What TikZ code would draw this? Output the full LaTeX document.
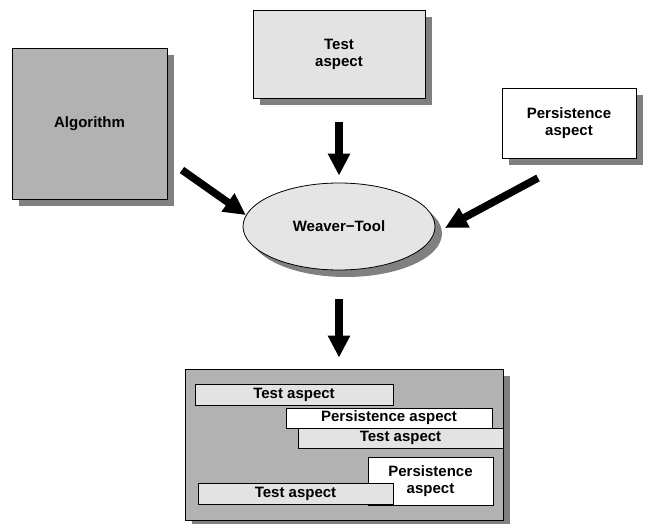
\documentclass[tikz,border=0pt]{standalone}
\usepackage{fontspec}
\setmainfont{Liberation Sans}
\usetikzlibrary{shapes.geometric,shadows,arrows.meta}

\begin{document}
\begin{tikzpicture}[x=1pt,y=-1pt,
  every node/.style={font=\bfseries\fontsize{15}{17}\selectfont,align=center,inner sep=0pt},
  box/.style={draw,line width=0.8pt,
    drop shadow={shadow xshift=7pt,shadow yshift=-7pt,fill=black!50,opacity=1}},
  bar/.style={draw,line width=0.8pt,fill=black!11},
  bigarrow/.style={line width=7.5pt,-{Triangle[width=21pt,length=22pt]}}]
  \useasboundingbox (0,0) rectangle (653,524);

  % the three inputs and the weaver
  \node[box,fill=black!30,minimum width=155pt,minimum height=151pt] (alg) at (89.5,123.5) {Algorithm};
  \node[box,fill=black!11,minimum width=172pt,minimum height=88pt] (test) at (339,54) {Test\\aspect};
  \node[box,fill=white,minimum width=134pt,minimum height=70pt] (pers) at (569,123) {Persistence\\aspect};
  \node[box,ellipse,fill=black!10,minimum width=192pt,minimum height=87pt] (weaver) at (339,226.5) {Weaver−Tool};

  % woven result
  \node[box,fill=black!30,minimum width=318pt,minimum height=151pt] (result) at (344,444.5) {};
  \node[bar,minimum width=198pt,minimum height=21pt] (t1) at (294,394.5) {Test aspect};
  \node[bar,fill=white,minimum width=206pt,minimum height=20pt] (p1) at (389,418) {Persistence aspect};
  \node[bar,minimum width=205pt,minimum height=20pt] (t2) at (400.5,438) {Test aspect};
  \node[bar,fill=white,minimum width=125pt,minimum height=48pt] (p2) at (430.5,481) {Persistence\\aspect};
  \node[bar,minimum width=195pt,minimum height=21pt] (t3) at (295.5,493.5) {Test aspect};

  % arrows
  \coordinate (algtail) at (182,170);
  \coordinate (pertail) at (538,178);
  \coordinate (pertip) at (445,228);
  \draw[bigarrow] (algtail) -- (weaver.173);
  \draw[bigarrow] (pertail) -- (pertip);
  \draw[bigarrow,shorten <=24pt,shorten >=7pt] (test.south) -- (weaver.north);
  \draw[bigarrow,shorten <=29pt,shorten >=11pt] (weaver.south) -- (weaver.south |- result.north);
\end{tikzpicture}
\end{document}
